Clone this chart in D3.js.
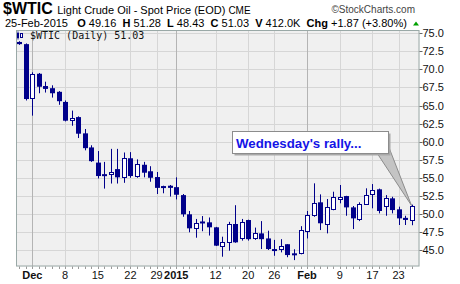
<!DOCTYPE html>
<html><head><meta charset="utf-8">
<script src="https://cdn.jsdelivr.net/npm/d3@7"></script>
<style>body{margin:0;background:#fff;} svg{display:block;font-family:"Liberation Sans",Arial,sans-serif;}</style>
</head><body><svg id="c" width="460" height="284"></svg>
<script>
const dates = ["2014-11-26","2014-11-28","2014-12-01","2014-12-02","2014-12-03","2014-12-04","2014-12-05","2014-12-08","2014-12-09","2014-12-10","2014-12-11","2014-12-12","2014-12-15","2014-12-16","2014-12-17","2014-12-18","2014-12-19","2014-12-22","2014-12-23","2014-12-24","2014-12-26","2014-12-29","2014-12-30","2014-12-31","2015-01-02","2015-01-05","2015-01-06","2015-01-07","2015-01-08","2015-01-09","2015-01-12","2015-01-13","2015-01-14","2015-01-15","2015-01-16","2015-01-20","2015-01-21","2015-01-22","2015-01-23","2015-01-26","2015-01-27","2015-01-28","2015-01-29","2015-01-30","2015-02-02","2015-02-03","2015-02-04","2015-02-05","2015-02-06","2015-02-09","2015-02-10","2015-02-11","2015-02-12","2015-02-13","2015-02-17","2015-02-18","2015-02-19","2015-02-20","2015-02-23","2015-02-24","2015-02-25"];
const opens  = [73.8,73.5,66.0,69.4,67.7,67.4,66.9,65.5,63.0,63.4,61.15,59.2,57.1,55.5,55.5,56.2,55.06,57.7,55.3,56.8,55.9,55.1,53.85,53.9,53.7,52.6,49.94,48.0,48.95,48.83,48.14,45.6,46.06,48.6,46.6,49.15,46.6,47.3,46.6,45.13,45.13,45.8,44.54,44.54,47.63,49.84,51.6,48.55,50.67,52.0,52.47,50.9,49.25,51.32,52.7,53.4,51.13,52.15,50.63,49.45,49.16];
const highs  = [73.9,73.6,69.6,69.5,68.3,67.8,67.0,65.7,64.3,63.5,61.75,59.5,58.7,57.2,59.0,59.0,58.5,58.55,57.55,57.2,56.6,55.8,53.9,54.0,55.06,52.75,50.4,49.3,49.7,49.5,48.2,46.84,48.9,51.2,49.3,49.2,48.1,49.0,47.67,46.4,46.5,45.8,45.1,48.3,50.4,54.23,52.7,52.06,53.07,54.0,52.5,51.09,51.6,53.54,54.13,53.5,52.6,52.37,51.0,49.74,51.28];
const lows   = [73.4,65.7,63.6,66.7,66.8,66.1,65.1,62.8,62.2,60.5,58.8,57.2,54.9,53.5,54.2,54.2,54.3,55.0,55.0,55.06,54.45,52.75,52.85,52.4,52.0,49.6,47.45,46.7,47.6,47.0,45.55,44.07,44.9,46.0,46.3,46.3,46.4,45.13,45.0,44.2,44.67,44.0,43.6,44.4,46.6,49.6,47.76,47.3,50.5,51.46,49.74,47.9,49.0,51.23,50.77,50.07,49.74,50.07,48.46,48.46,48.43];
const closes = [73.5,65.9,69.4,67.6,67.3,66.7,65.6,62.9,63.3,61.1,59.1,57.3,55.24,55.3,55.8,55.06,57.7,55.24,56.9,55.7,55.0,53.6,53.6,53.6,52.65,49.94,48.0,48.7,48.75,48.14,45.6,46.06,48.55,46.06,48.83,46.5,47.3,46.5,45.13,44.9,45.6,44.3,44.3,47.76,49.84,51.46,48.7,50.9,52.3,52.37,50.9,49.38,51.36,52.6,53.3,50.4,52.15,50.53,49.38,49.16,51.03];
const yTicks = [45,47.5,50,52.5,55,57.5,60,62.5,65,67.5,70,72.5,75];
const xTickDates  = ["2014-12-01","2014-12-08","2014-12-15","2014-12-22","2014-12-29","2015-01-02","2015-01-12","2015-01-20","2015-01-26","2015-02-02","2015-02-09","2015-02-17","2015-02-23"];
const xTickLabels = ["Dec","8","15","22","29","2015","12","20","26","Feb","9","17","23"];
const majorTickLabels = ["Dec","2015","Feb"];

const svg = d3.select("#c");
const L = 16, R = 419.5, T = 30, B = 266.5;
const x = d3.scalePoint().domain(dates).range([19.3, 411.7]);
const y = d3.scaleLinear().domain([45, 75]).range([250, 33.3]);
const px = v => Math.round(v) + 0.5;
const navy = "#00008a";

// plot background
svg.append("rect").attr("x", L).attr("y", T).attr("width", R - L).attr("height", B - T).attr("fill", "#f0f0f0");

// horizontal grid
svg.append("g").selectAll("line").data(yTicks).join("line")
  .attr("x1", L).attr("x2", R).attr("y1", d => px(y(d))).attr("y2", d => px(y(d)))
  .attr("stroke", "#d6d6d6").attr("stroke-width", 1);

// vertical grid
svg.append("g").selectAll("line").data(xTickDates).join("line")
  .attr("x1", d => px(x(d))).attr("x2", d => px(x(d))).attr("y1", T).attr("y2", B)
  .attr("stroke", (d, i) => majorTickLabels.includes(xTickLabels[i]) ? "#b4b4b4" : "#d6d6d6")
  .attr("stroke-width", 1);

// candles
const data = dates.map((d, i) => ({d, o: opens[i], h: highs[i], l: lows[i], c: closes[i]}));
const cg = svg.append("g");
cg.selectAll("line").data(data).join("line")
  .attr("x1", d => px(x(d.d))).attr("x2", d => px(x(d.d)))
  .attr("y1", d => y(d.h)).attr("y2", d => y(d.l))
  .attr("stroke", navy).attr("stroke-width", 1);
cg.selectAll("rect").data(data).join("rect")
  .each(function(d) {
    const xc = Math.round(x(d.d));
    const top = y(Math.max(d.o, d.c)), bot = y(Math.min(d.o, d.c));
    const r = d3.select(this);
    if (d.c >= d.o) {
      r.attr("x", xc - 1.5).attr("width", 4).attr("y", Math.round(top) + 0.5)
       .attr("height", Math.max(1, Math.round(bot) - Math.round(top)))
       .attr("fill", "#ffffff").attr("stroke", navy).attr("stroke-width", 1);
    } else {
      r.attr("x", xc - 2).attr("width", 5).attr("y", top)
       .attr("height", Math.max(2, bot - top)).attr("fill", navy);
    }
  });

// plot border
svg.append("rect").attr("x", L + 0.5).attr("y", T + 0.5).attr("width", R - L - 1).attr("height", B - T - 1)
  .attr("fill", "none").attr("stroke", "#9aa9a7").attr("stroke-width", 1);

// right axis
const ya = svg.append("g");
ya.selectAll("line").data(yTicks).join("line")
  .attr("x1", R).attr("x2", R + 3).attr("y1", d => px(y(d))).attr("y2", d => px(y(d)))
  .attr("stroke", "#666");
ya.selectAll("text").data(yTicks).join("text")
  .attr("x", R + 3).attr("y", d => y(d) + 4)
  .attr("font-size", 11).attr("fill", "#111")
  .text(d => d3.format(".1f")(d));

// bottom axis: daily ticks + labels
svg.append("g").selectAll("line").data(dates).join("line")
  .attr("x1", d => px(x(d))).attr("x2", d => px(x(d))).attr("y1", B).attr("y2", B + 2.5)
  .attr("stroke", "#999");
svg.append("g").selectAll("text").data(xTickDates).join("text")
  .attr("x", d => x(d)).attr("y", 279)
  .attr("text-anchor", "middle").attr("font-size", 11).attr("fill", "#111")
  .attr("font-weight", (d, i) => majorTickLabels.includes(xTickLabels[i]) ? "bold" : "normal")
  .text((d, i) => xTickLabels[i]);

// legend in plot
const lg = svg.append("g");
lg.append("rect").attr("x", 17).attr("y", 33).attr("width", 2).attr("height", 5).attr("fill", navy);
lg.append("line").attr("x1", 18).attr("x2", 18).attr("y1", 31.5).attr("y2", 39.5).attr("stroke", navy);
lg.append("rect").attr("x", 20.5).attr("y", 33.5).attr("width", 2).attr("height", 4).attr("fill", "#fff").attr("stroke", navy);
lg.append("text").attr("x", 30).attr("y", 39).attr("font-family", "'DejaVu Sans Mono',monospace")
  .attr("font-size", 10).attr("fill", "#111").text("$WTIC (Daily) 51.03");

// header
const h1 = svg.append("text").attr("x", 3).attr("y", 14).attr("fill", "#000").attr("xml:space", "preserve");
h1.append("tspan").attr("font-size", 16).attr("font-weight", "bold").text("$WTIC ");
h1.append("tspan").attr("font-size", 11).text("Light Crude Oil - Spot Price (EOD) ");
h1.append("tspan").attr("font-size", 10).text("CME");
svg.append("text").attr("x", 415).attr("y", 13).attr("text-anchor", "end").attr("font-size", 10)
  .attr("fill", "#444").text("\u00a9StockCharts.com");

const h2 = svg.append("text").attr("x", 5).attr("y", 26.5).attr("font-size", 11).attr("fill", "#000")
  .style("white-space", "pre");
const parts = [["25-Feb-2015   ", false], ["O", true], [" 49.16  ", false], ["H", true], [" 51.28  ", false],
  ["L", true], [" 48.43  ", false], ["C", true], [" 51.03  ", false], ["V", true], [" 412.0K  ", false],
  ["Chg", true], [" +1.87 (+3.80%)", false]];
parts.forEach(p => h2.append("tspan").attr("font-weight", p[1] ? "bold" : "normal").text(p[0]));
svg.append("path").attr("d", "M413,25.5 L416,21.5 L419,25.5 Z").attr("fill", "#00a000");

// annotation callout
const ann = svg.append("g");
ann.append("path").attr("d", "M377,153 L388,145 L411.5,205.5 Z")
  .attr("fill", "#c4c4c4").attr("stroke", "#8c8c8c").attr("stroke-width", 1);
ann.append("rect").attr("x", 234.5).attr("y", 133.5).attr("width", 156).attr("height", 22).attr("fill", "#a8a8a8");
ann.append("rect").attr("x", 232.5).attr("y", 131.5).attr("width", 156).attr("height", 22)
  .attr("fill", "#fff").attr("stroke", "#8c8c8c").attr("stroke-width", 1);
ann.append("text").attr("x", 236).attr("y", 147.5).attr("font-size", 13.3).attr("font-weight", "bold")
  .attr("fill", "#1414e6").text("Wednesday's rally...");
</script>
</body></html>
